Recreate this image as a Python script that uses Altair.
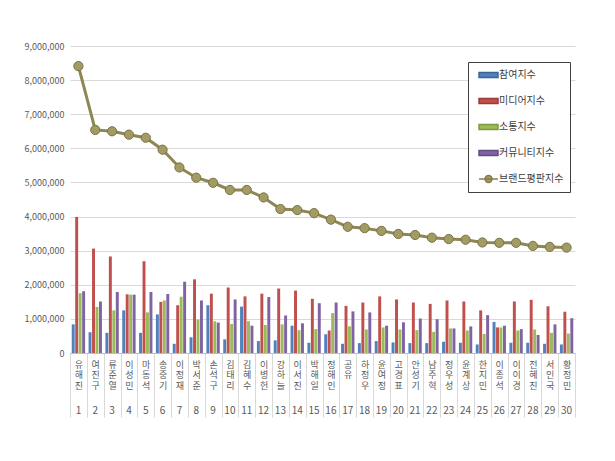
import altair as alt
import pandas as pd

names = ["유해진", "여진구", "류준열", "이성민", "마동석", "송중기", "이정재", "박서준", "손석구", "김태리",
         "김혜수", "이병헌", "강하늘", "이서진", "박해일", "정해인", "공유", "하정우", "윤여정", "고경표",
         "안성기", "남주혁", "정우성", "윤계상", "한지민", "이종석", "이이경", "전혜진", "서인국", "황정민"]
ranks = list(range(1, 31))

participation = [840000, 610000, 590000, 1250000, 590000, 1130000, 270000, 460000, 1400000, 400000,
                 1360000, 350000, 370000, 800000, 300000, 550000, 270000, 290000, 350000, 310000,
                 290000, 290000, 330000, 300000, 250000, 910000, 300000, 300000, 270000, 250000]
media = [3990000, 3060000, 2830000, 1720000, 2690000, 1500000, 1400000, 2160000, 1740000, 1920000,
         1660000, 1740000, 1890000, 1830000, 1590000, 660000, 1380000, 1480000, 1660000, 1570000,
         1480000, 1440000, 1540000, 1510000, 1250000, 750000, 1510000, 1560000, 1370000, 1210000]
communication = [1750000, 1350000, 1250000, 1710000, 1190000, 1540000, 1650000, 980000, 930000, 850000,
                 930000, 820000, 840000, 670000, 700000, 1170000, 780000, 690000, 750000, 690000,
                 670000, 620000, 720000, 660000, 560000, 750000, 660000, 690000, 590000, 570000]
community = [1810000, 1510000, 1790000, 1710000, 1790000, 1730000, 2090000, 1540000, 890000, 1570000,
             800000, 1640000, 1100000, 870000, 1460000, 1480000, 1220000, 1190000, 800000, 900000,
             1010000, 990000, 720000, 780000, 1110000, 800000, 700000, 530000, 840000, 1020000]
brand = [8410000, 6540000, 6500000, 6400000, 6310000, 5960000, 5440000, 5140000, 4990000, 4780000,
         4780000, 4560000, 4220000, 4190000, 4100000, 3910000, 3700000, 3660000, 3580000, 3490000,
         3460000, 3380000, 3340000, 3320000, 3240000, 3230000, 3230000, 3140000, 3110000, 3090000]

series = ["참여지수", "미디어지수", "소통지수", "커뮤니티지수", "브랜드평판지수"]
y_ticks = [0, 1000000, 2000000, 3000000, 4000000, 5000000, 6000000, 7000000, 8000000, 9000000]

bar_colors = ["#4F81BD", "#C0504D", "#9BBB59", "#8064A2"]
fill_colors = ["#4F81BD", "#C0504D", "#9BBB59", "#8064A2", "#A39B64"]
stroke_colors = ["#3A6597", "#9A3B38", "#7D9A43", "#634C82", "#857D4C"]
rect_path = "M-0.33,-0.4H2.83V0.4H-0.33Z"
line_path = "M-0.33,0H2.83M1.83,0A0.58,0.58,0,1,1,0.67,0A0.58,0.58,0,1,1,1.83,0Z"
shape_paths = [rect_path, rect_path, rect_path, rect_path, line_path]

# category key: characters of the name and the rank, separated by "|"
labels = ["|".join(list(n)) + "#" + str(r) for n, r in zip(names, ranks)]

values_by_series = [participation, media, communication, community]
bar_rows = []
for s, vals in zip(series[:4], values_by_series):
    for lab, v in zip(labels, vals):
        bar_rows.append({"label": lab, "series": s, "value": v})
bar_df = pd.DataFrame(bar_rows)
line_df = pd.DataFrame({"label": labels, "value": brand, "series": series[4]})

FONT = "Noto Sans CJK KR"
x_scale = alt.Scale(paddingInner=0, paddingOuter=0)

x_names = alt.X(
    "label:N", sort=labels, scale=x_scale,
    axis=alt.Axis(
        title=None, orient="bottom",
        labelExpr="split(split(datum.label, '#')[0], '|')", labelAngle=0,
        labelAlign="center", labelBaseline="top", labelLineHeight=10.5,
        labelFontSize=9, labelColor="#595959", labelFont=FONT,
        labelPadding=-57, tickBand="extent", tickSize=64, tickColor="#D9D9D9",
        domainColor="#BFBFBF", grid=False, labelOverlap=False,
    ),
)
x_ranks = alt.X(
    "label:N", sort=labels, scale=x_scale,
    axis=alt.Axis(
        title=None, orient="bottom",
        labelExpr="split(datum.label, '#')[1]", labelAngle=0,
        labelAlign="center", labelBaseline="top",
        labelFontSize=10, labelColor="#595959", labelFont=FONT,
        labelPadding=52, ticks=False, domain=False, grid=False, labelOverlap=False,
    ),
)
y_enc = alt.Y(
    "value:Q",
    scale=alt.Scale(domain=[0, 9000000], nice=False),
    axis=alt.Axis(
        title=None, values=y_ticks, format=",d", labelFontSize=9,
        labelColor="#595959", labelFont=FONT, gridColor="#D9D9D9",
        domain=False, ticks=False, labelPadding=6,
    ),
)

bars = alt.Chart(bar_df).mark_bar().encode(
    x=x_names,
    xOffset=alt.XOffset("series:N", sort=series[:4],
                        scale=alt.Scale(domain=series[:4], paddingInner=0.15, paddingOuter=0.5)),
    y=y_enc,
    color=alt.Color("series:N", scale=alt.Scale(domain=series[:4], range=bar_colors), legend=None),
)

line = alt.Chart(line_df).mark_line(
    color="#8E8654", strokeWidth=3,
    point=alt.OverlayMarkDef(filled=True, size=85, fill="#A39B64", stroke="#7A7344",
                             strokeWidth=1, opacity=1),
).encode(x=x_ranks, y=y_enc)

leg = dict(title=None, orient="none", legendX=398, legendY=16, strokeColor="#404040",
           fillColor="white", padding=6, rowPadding=13, symbolSize=144, labelOffset=11,
           labelFontSize=10, labelFont=FONT, labelColor="#404040", symbolStrokeWidth=1.5,
           cornerRadius=0)

legend_layer = alt.Chart(line_df).transform_filter("false").mark_point(filled=True, opacity=1).encode(
    fill=alt.Fill("series:N", scale=alt.Scale(domain=series, range=fill_colors), legend=alt.Legend(**leg)),
    stroke=alt.Stroke("series:N", scale=alt.Scale(domain=series, range=stroke_colors), legend=alt.Legend(**leg)),
    shape=alt.Shape("series:N", scale=alt.Scale(domain=series, range=shape_paths), legend=alt.Legend(**leg)),
)

chart = alt.layer(bars, line, legend_layer).resolve_axis(x="independent").properties(
    width=505, height=307,
    autosize=alt.AutoSizeParams(type="none"),
    padding={"left": 62, "top": 38, "right": 32, "bottom": 100},
    background="white",
).configure_view(stroke=None)

chart.save("out.html", embed_options={"renderer": "svg", "actions": False})
